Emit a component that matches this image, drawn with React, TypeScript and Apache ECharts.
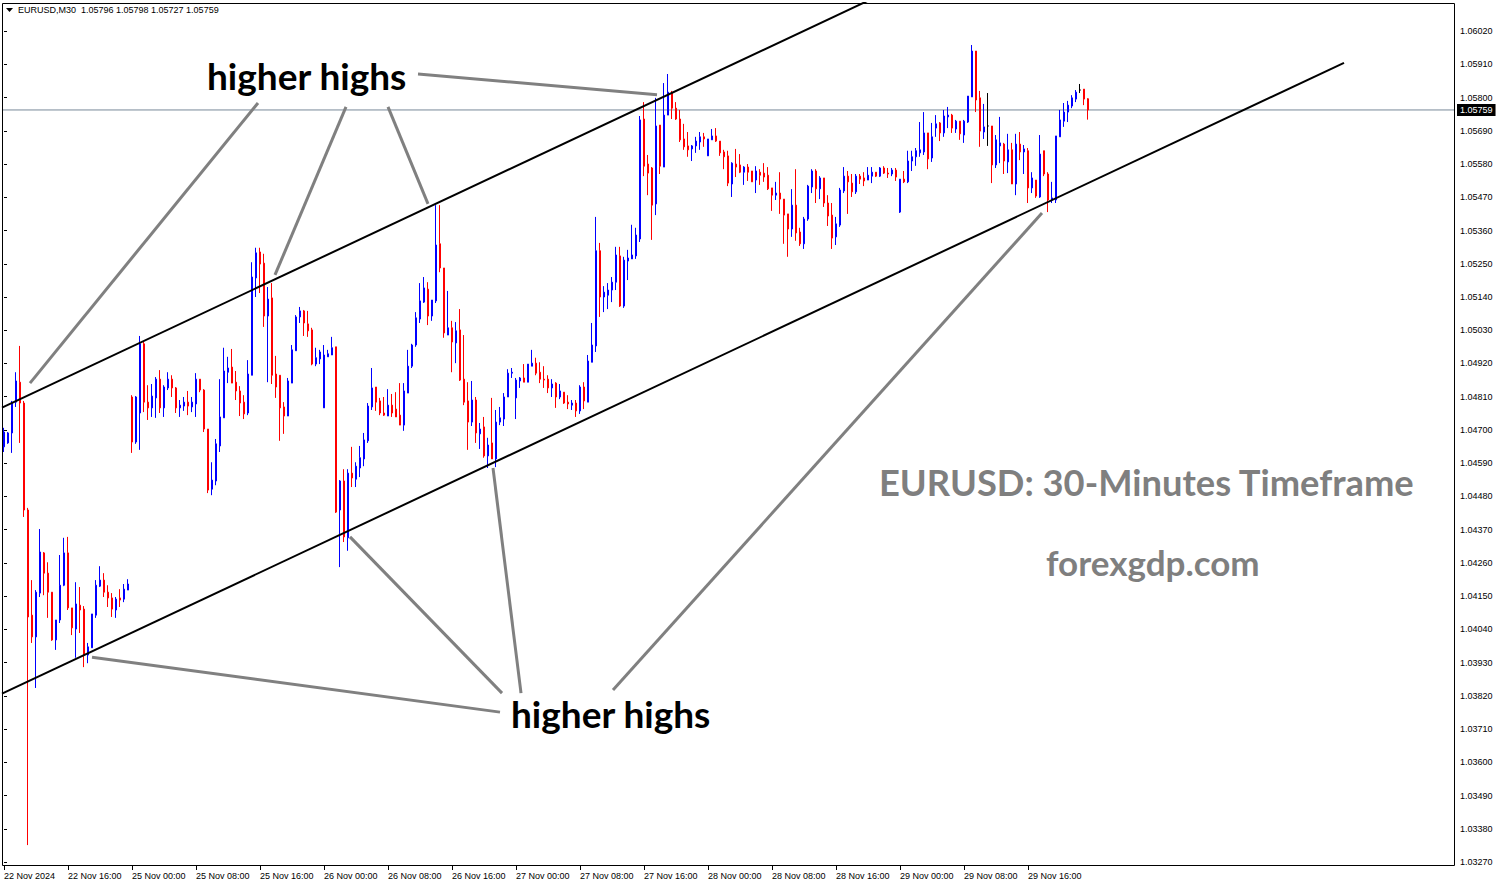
import React, { useEffect, useRef } from "react";
import * as echarts from "echarts";

const symbolTitle = "EURUSD,M30";
const lastBar = { open: 1.05796, high: 1.05798, low: 1.05727, close: 1.05759 };

const tickLabels = [
  "22 Nov 2024", "22 Nov 16:00", "25 Nov 00:00", "25 Nov 08:00", "25 Nov 16:00",
  "26 Nov 00:00", "26 Nov 08:00", "26 Nov 16:00", "27 Nov 00:00", "27 Nov 08:00",
  "27 Nov 16:00", "28 Nov 00:00", "28 Nov 08:00", "28 Nov 16:00", "29 Nov 00:00",
  "29 Nov 08:00", "29 Nov 16:00",
];
const tradingDays = ["22 Nov", "25 Nov", "26 Nov", "27 Nov", "28 Nov", "29 Nov"];
const firstDayStartSlot = 16;
const totalSlots = 363;
const barsPerTick = 16;

const opens = [
  1.04644,1.04657,1.04690,1.04792,1.04858,1.04789,1.04435,1.04087,1.04015,1.04160,1.04293,1.04226,1.04163,1.04005,1.04071,1.04186,
  1.04293,1.04111,1.04041,1.04120,1.04107,1.03955,1.03979,1.04087,1.04183,1.04203,1.04163,1.04144,1.04104,1.04144,1.04140,1.04170,
  1.04809,1.04660,1.04756,1.04985,1.04792,1.04773,1.04806,1.04868,1.04773,1.04839,1.04868,1.04839,1.04773,1.04779,1.04792,1.04776,
  1.04786,1.04868,1.04832,1.04703,1.04504,1.04531,1.04647,1.04740,1.04891,1.04908,1.04858,1.04829,1.04792,1.04756,1.04881,1.05203,
  1.05289,1.05252,1.05077,1.05137,1.04885,1.04881,1.04776,1.04746,1.04855,1.04962,1.05074,1.05094,1.05051,1.05031,1.04918,1.04935,
  1.04773,1.04942,1.04948,1.04975,1.04435,1.04531,1.04343,1.04557,1.04537,1.04574,1.04604,1.04664,1.04776,1.04842,1.04796,1.04756,
  1.04746,1.04782,1.04769,1.04749,1.04716,1.04822,1.04911,1.04981,1.05067,1.05123,1.05166,1.05077,1.05127,1.05316,1.05236,1.05014,
  1.05038,1.04988,1.05031,1.04868,1.04796,1.04726,1.04799,1.04687,1.04710,1.04614,1.04657,1.04604,1.04726,1.04736,1.04809,1.04888,
  1.04806,1.04862,1.04872,1.04858,1.04911,1.04921,1.04891,1.04868,1.04868,1.04839,1.04855,1.04809,1.04825,1.04792,1.04782,1.04789,
  1.04763,1.04842,1.04792,1.04924,1.04978,1.05293,1.05140,1.05146,1.05163,1.05189,1.05276,1.05110,1.05259,1.05266,1.05276,1.05332,
  1.05729,1.05580,1.05567,1.05448,1.05709,1.05570,1.05742,1.05818,1.05765,1.05729,1.05663,1.05640,1.05630,1.05640,1.05653,1.05670,
  1.05607,1.05660,1.05673,1.05656,1.05620,1.05607,1.05514,1.05580,1.05577,1.05553,1.05570,1.05557,1.05527,1.05553,1.05550,1.05543,
  1.05501,1.05477,1.05484,1.05464,1.05415,1.05365,1.05444,1.05355,1.05316,1.05398,1.05504,1.05557,1.05498,1.05534,1.05451,1.05411,
  1.05339,1.05378,1.05491,1.05540,1.05517,1.05488,1.05540,1.05534,1.05527,1.05540,1.05553,1.05540,1.05567,1.05550,1.05547,1.05560,
  1.05421,1.05530,1.05521,1.05590,1.05604,1.05617,1.05620,1.05683,1.05600,1.05699,1.05716,1.05683,1.05736,1.05742,1.05696,1.05722,
  1.05676,1.05719,1.05802,1.05954,1.05799,1.05686,1.05706,1.05706,1.05577,1.05640,1.05646,1.05587,1.05627,1.05514,1.05646,1.05620,
  1.05624,1.05501,1.05527,1.05471,1.05624,1.05547,1.05461,1.05461,1.05670,1.05722,1.05752,1.05772,1.05795,1.05825,1.05828,1.05796,
];
const highs = [
  1.04707,1.04693,1.04796,1.04891,1.04978,1.04796,1.04442,1.04203,1.04170,1.04372,1.04296,1.04262,1.04163,1.04071,1.04286,1.04343,
  1.04346,1.04111,1.04196,1.04180,1.04117,1.03995,1.04091,1.04203,1.04249,1.04226,1.04186,1.04160,1.04147,1.04173,1.04190,1.04206,
  1.04815,1.04812,1.05011,1.04991,1.04848,1.04852,1.04875,1.04898,1.04848,1.04891,1.04881,1.04842,1.04799,1.04809,1.04829,1.04809,
  1.04888,1.04868,1.04835,1.04703,1.04593,1.04670,1.04868,1.04972,1.04942,1.04968,1.04895,1.04845,1.04815,1.04931,1.05255,1.05303,
  1.05303,1.05283,1.05173,1.05186,1.04945,1.04881,1.04792,1.04872,1.04981,1.05080,1.05107,1.05097,1.05094,1.05038,1.04972,1.04965,
  1.04981,1.04965,1.05008,1.04975,1.04534,1.04570,1.04570,1.04644,1.04593,1.04647,1.04690,1.04789,1.04905,1.04842,1.04806,1.04809,
  1.04835,1.04819,1.04825,1.04855,1.04855,1.04965,1.04985,1.05090,1.05186,1.05206,1.05189,1.05130,1.05444,1.05444,1.05236,1.05160,
  1.05061,1.05057,1.05100,1.05014,1.04858,1.04862,1.04809,1.04723,1.04743,1.04674,1.04806,1.04766,1.04776,1.04822,1.04901,1.04905,
  1.04872,1.04875,1.04918,1.04918,1.04965,1.04939,1.04924,1.04911,1.04881,1.04868,1.04858,1.04852,1.04825,1.04815,1.04799,1.04799,
  1.04848,1.04858,1.04948,1.05054,1.05405,1.05319,1.05176,1.05186,1.05206,1.05306,1.05306,1.05273,1.05296,1.05379,1.05369,1.05739,
  1.05785,1.05610,1.05570,1.05799,1.05709,1.05848,1.05878,1.05822,1.05785,1.05759,1.05713,1.05686,1.05643,1.05670,1.05686,1.05683,
  1.05663,1.05696,1.05699,1.05656,1.05627,1.05624,1.05586,1.05630,1.05613,1.05573,1.05580,1.05557,1.05573,1.05563,1.05583,1.05570,
  1.05501,1.05521,1.05553,1.05464,1.05415,1.05497,1.05563,1.05369,1.05405,1.05511,1.05563,1.05563,1.05540,1.05534,1.05477,1.05451,
  1.05405,1.05501,1.05570,1.05557,1.05547,1.05547,1.05547,1.05553,1.05570,1.05570,1.05553,1.05570,1.05573,1.05567,1.05567,1.05567,
  1.05530,1.05557,1.05624,1.05624,1.05633,1.05719,1.05752,1.05683,1.05716,1.05742,1.05719,1.05759,1.05769,1.05746,1.05726,1.05722,
  1.05726,1.05805,1.05974,1.05954,1.05822,1.05779,1.05815,1.05706,1.05676,1.05736,1.05650,1.05680,1.05650,1.05680,1.05686,1.05643,
  1.05633,1.05553,1.05527,1.05676,1.05624,1.05553,1.05521,1.05673,1.05759,1.05782,1.05789,1.05808,1.05825,1.05845,1.05828,1.05798,
];
const lows = [
  1.04627,1.04654,1.04624,1.04776,1.04657,1.04412,1.03326,1.03995,1.03846,1.04147,1.04153,1.04078,1.04002,1.03972,1.04061,1.04183,
  1.04104,1.04021,1.03946,1.04028,1.03915,1.03928,1.03979,1.04078,1.04180,1.04147,1.04114,1.04081,1.04078,1.04114,1.04130,1.04170,
  1.04624,1.04654,1.04634,1.04759,1.04733,1.04743,1.04740,1.04756,1.04743,1.04832,1.04809,1.04756,1.04743,1.04763,1.04749,1.04759,
  1.04743,1.04825,1.04693,1.04491,1.04484,1.04517,1.04627,1.04740,1.04855,1.04855,1.04799,1.04746,1.04736,1.04749,1.04881,1.05140,
  1.05153,1.05041,1.04858,1.04852,1.04806,1.04664,1.04687,1.04746,1.04855,1.04962,1.05054,1.05011,1.05008,1.04914,1.04911,1.04918,
  1.04773,1.04942,1.04948,1.04425,1.04246,1.04329,1.04300,1.04511,1.04511,1.04544,1.04580,1.04657,1.04766,1.04763,1.04749,1.04746,
  1.04746,1.04743,1.04743,1.04716,1.04697,1.04822,1.04905,1.04975,1.05054,1.05120,1.05047,1.05061,1.05120,1.05222,1.05005,1.05014,
  1.04891,1.04921,1.04862,1.04782,1.04634,1.04713,1.04657,1.04637,1.04608,1.04574,1.04604,1.04577,1.04716,1.04713,1.04809,1.04872,
  1.04736,1.04839,1.04858,1.04858,1.04911,1.04881,1.04855,1.04839,1.04822,1.04809,1.04773,1.04802,1.04786,1.04769,1.04766,1.04743,
  1.04753,1.04769,1.04792,1.04924,1.04958,1.05074,1.05090,1.05100,1.05123,1.05163,1.05107,1.05104,1.05196,1.05266,1.05266,1.05322,
  1.05540,1.05477,1.05329,1.05411,1.05547,1.05570,1.05742,1.05729,1.05726,1.05653,1.05627,1.05604,1.05590,1.05617,1.05627,1.05637,
  1.05607,1.05660,1.05653,1.05607,1.05563,1.05507,1.05471,1.05537,1.05550,1.05511,1.05524,1.05521,1.05484,1.05511,1.05521,1.05494,
  1.05425,1.05461,1.05415,1.05316,1.05273,1.05339,1.05326,1.05309,1.05299,1.05392,1.05484,1.05451,1.05464,1.05438,1.05375,1.05299,
  1.05312,1.05372,1.05484,1.05415,1.05471,1.05481,1.05514,1.05507,1.05527,1.05517,1.05537,1.05537,1.05547,1.05534,1.05540,1.05524,
  1.05418,1.05517,1.05517,1.05557,1.05574,1.05604,1.05610,1.05563,1.05587,1.05670,1.05656,1.05670,1.05699,1.05683,1.05683,1.05660,
  1.05650,1.05716,1.05802,1.05752,1.05637,1.05663,1.05640,1.05517,1.05567,1.05583,1.05547,1.05550,1.05514,1.05477,1.05593,1.05547,
  1.05451,1.05484,1.05468,1.05468,1.05540,1.05421,1.05451,1.05451,1.05670,1.05703,1.05719,1.05765,1.05785,1.05815,1.05775,1.05727,
];
const closes = [
  1.04693,1.04690,1.04792,1.04862,1.04789,1.04435,1.04081,1.04015,1.04163,1.04296,1.04226,1.04163,1.04005,1.04071,1.04186,1.04293,
  1.04111,1.04045,1.04124,1.04104,1.03955,1.03982,1.04091,1.04186,1.04203,1.04163,1.04144,1.04107,1.04140,1.04137,1.04173,1.04190,
  1.04660,1.04809,1.04985,1.04792,1.04773,1.04812,1.04868,1.04773,1.04842,1.04868,1.04839,1.04773,1.04782,1.04792,1.04779,1.04792,
  1.04868,1.04832,1.04703,1.04501,1.04534,1.04654,1.04743,1.04895,1.04905,1.04855,1.04829,1.04789,1.04753,1.04885,1.05206,1.05286,
  1.05249,1.05077,1.05133,1.04881,1.04842,1.04773,1.04746,1.04862,1.04965,1.05074,1.05094,1.05054,1.05028,1.04918,1.04939,1.04958,
  1.04948,1.04952,1.04972,1.04428,1.04531,1.04346,1.04557,1.04541,1.04580,1.04608,1.04667,1.04779,1.04839,1.04792,1.04756,1.04749,
  1.04782,1.04756,1.04743,1.04716,1.04829,1.04911,1.04981,1.05071,1.05127,1.05170,1.05077,1.05130,1.05312,1.05236,1.05021,1.05038,
  1.04991,1.05028,1.04865,1.04792,1.04726,1.04799,1.04690,1.04703,1.04614,1.04650,1.04604,1.04726,1.04740,1.04809,1.04888,1.04891,
  1.04865,1.04872,1.04858,1.04918,1.04921,1.04888,1.04868,1.04865,1.04839,1.04852,1.04809,1.04829,1.04789,1.04786,1.04789,1.04763,
  1.04842,1.04796,1.04928,1.04981,1.05293,1.05140,1.05156,1.05163,1.05189,1.05279,1.05110,1.05262,1.05269,1.05279,1.05345,1.05726,
  1.05573,1.05550,1.05444,1.05706,1.05573,1.05742,1.05818,1.05765,1.05729,1.05660,1.05637,1.05627,1.05640,1.05656,1.05670,1.05663,
  1.05663,1.05673,1.05656,1.05617,1.05604,1.05517,1.05583,1.05570,1.05553,1.05570,1.05553,1.05521,1.05557,1.05543,1.05537,1.05498,
  1.05477,1.05484,1.05464,1.05411,1.05365,1.05444,1.05352,1.05316,1.05398,1.05507,1.05557,1.05498,1.05534,1.05451,1.05408,1.05335,
  1.05382,1.05494,1.05540,1.05521,1.05488,1.05540,1.05530,1.05524,1.05543,1.05553,1.05540,1.05567,1.05550,1.05547,1.05560,1.05537,
  1.05530,1.05521,1.05590,1.05604,1.05624,1.05627,1.05683,1.05597,1.05670,1.05713,1.05683,1.05739,1.05742,1.05699,1.05722,1.05680,
  1.05722,1.05805,1.05954,1.05792,1.05689,1.05703,1.05706,1.05577,1.05660,1.05650,1.05590,1.05627,1.05514,1.05646,1.05620,1.05630,
  1.05501,1.05534,1.05474,1.05613,1.05547,1.05461,1.05468,1.05673,1.05726,1.05752,1.05775,1.05799,1.05818,1.05825,1.05795,1.05759,
];

const priceMin = 1.0327;
const priceMax = 1.06113;
const priceStep = 0.0011;

// trend lines: [bar index, price]
const upperChannel = [[-0.5, 1.04774], [250, 1.06332]];
const lowerChannel = [[-0.5, 1.03827], [335, 1.05915]];
const pointerLines = [
  [[63.5, 1.05782], [6.5, 1.04855]],
  [[85.5, 1.05769], [67.75, 1.05213]],
  [[96, 1.05769], [106, 1.05448]],
  [[103.5, 1.05878], [163.25, 1.05809]],
  [[124.5, 1.03829], [86.5, 1.04346]],
  [[129.25, 1.03829], [122.25, 1.04574]],
  [[152.25, 1.03839], [259.5, 1.05418]],
  [[124, 1.03766], [22, 1.03948]],
];

const annotationTexts = [
  { text: "higher highs", left: 207, top: 57, size: 37, color: "#000000" },
  { text: "higher highs", left: 511, top: 695, size: 37, color: "#000000" },
  { text: "EURUSD: 30-Minutes Timeframe", left: 879, top: 464, size: 36.3, color: "#7f7f7f" },
  { text: "forexgdp.com", left: 1046, top: 544, size: 35, color: "#7f7f7f" },
];

function buildCategories(): string[] {
  const out: string[] = [];
  tradingDays.forEach((d, k) => {
    for (let s = k === 0 ? firstDayStartSlot : 0; s < 48; s++) {
      const h = String(Math.floor(s / 2)).padStart(2, "0");
      const m = s % 2 ? "30" : "00";
      out.push(`${d} ${h}:${m}`);
    }
  });
  for (let k = out.length; k < totalSlots; k++) out.push(`slot ${k}`);
  return out;
}

const AXIS_FONT = "'Liberation Sans', Arial, sans-serif";
const BIG_FAMILY = "Lato, 'Open Sans', sans-serif";

export default function App() {
  const ref = useRef<HTMLDivElement>(null);
  useEffect(() => {
    if (!ref.current) return;
    const chart = echarts.init(ref.current, undefined, { renderer: "svg" });
    const categories = buildCategories();
    const isTick = (index: number) => index % barsPerTick === 0 && index / barsPerTick < tickLabels.length;
    const candleData = opens.map((o, i) => [o, closes[i], lows[i], highs[i]]);

    const lineSeries = (data: number[][], color: string, width: number, z: number) => ({
      type: "line",
      xAxisIndex: 1,
      yAxisIndex: 0,
      data,
      symbol: "none",
      silent: true,
      clip: true,
      z,
      lineStyle: { color, width },
    });

    const option: any = {
      animation: false,
      backgroundColor: "#ffffff",
      grid: { left: 2, right: 45, top: 3, bottom: 26, containLabel: false },
      xAxis: [
        {
          type: "category",
          data: categories,
          boundaryGap: true,
          offset: 4,
          axisLine: { show: false },
          axisTick: {
            show: true,
            interval: (index: number) => isTick(index),
            alignWithLabel: true,
            length: 4,
            lineStyle: { color: "#000000" },
          },
          axisLabel: {
            interval: (index: number) => isTick(index),
            formatter: (_v: string, index: number) => (isTick(index) ? tickLabels[index / barsPerTick] : ""),
            align: "left",
            color: "#000000",
            fontSize: 9,
            fontFamily: AXIS_FONT,
            margin: 5,
          },
          splitLine: { show: false },
        },
        { type: "value", min: -0.5, max: totalSlots - 0.5, show: false },
      ],
      yAxis: {
        type: "value",
        position: "right",
        min: priceMin,
        max: priceMax,
        interval: priceStep,
        axisLine: { show: false },
        axisTick: { show: true, length: 3, lineStyle: { color: "#000000" } },
        axisLabel: {
          formatter: (v: number) => v.toFixed(5),
          color: "#000000",
          fontSize: 9,
          fontFamily: AXIS_FONT,
          margin: 6,
          showMaxLabel: false,
        },
        splitLine: { show: false },
      },
      series: [
        {
          type: "line",
          xAxisIndex: 1,
          yAxisIndex: 0,
          data: [[-0.5, lastBar.close], [totalSlots - 0.5, lastBar.close]],
          symbol: "none",
          silent: true,
          z: 1,
          lineStyle: { color: "#778899", width: 1 },
          endLabel: {
            show: true,
            formatter: () => lastBar.close.toFixed(5),
            backgroundColor: "#000000",
            color: "#ffffff",
            fontSize: 9,
            fontFamily: AXIS_FONT,
            padding: [2, 3, 1, 3],
            distance: 3,
          },
        },
        {
          type: "candlestick",
          xAxisIndex: 0,
          yAxisIndex: 0,
          data: candleData,
          barWidth: 2,
          z: 2,
          itemStyle: {
            color: "#0000ff",
            color0: "#ff0000",
            borderColor: "#0000ff",
            borderColor0: "#ff0000",
            borderColorDoji: "#000000",
            borderWidth: 1,
          },
        },
        lineSeries(upperChannel, "#000000", 2, 5),
        lineSeries(lowerChannel, "#000000", 2, 5),
        ...pointerLines.map((p) => lineSeries(p, "#808080", 3, 6)),
      ],
      graphic: [
        {
          type: "rect",
          silent: true,
          z: 10,
          shape: { x: 2.5, y: 3.5, width: 1452, height: 862 },
          style: { fill: "none", stroke: "#000000", lineWidth: 1 },
        },
        {
          type: "polygon",
          silent: true,
          shape: { points: [[6, 8], [13, 8], [9.5, 12]] },
          style: { fill: "#000000" },
        },
        {
          type: "text",
          left: 18,
          top: 5,
          silent: true,
          style: {
            text: `${symbolTitle}  ${lastBar.open.toFixed(5)} ${lastBar.high.toFixed(5)} ${lastBar.low.toFixed(5)} ${lastBar.close.toFixed(5)}`,
            font: `9px ${AXIS_FONT}`,
            fill: "#000000",
          },
        },
        ...annotationTexts.map((a) => ({
          type: "text",
          left: a.left,
          top: a.top,
          silent: true,
          z: 20,
          style: { text: a.text, font: `bold ${a.size}px ${BIG_FAMILY}`, fill: a.color },
        })),
      ],
    };
    chart.setOption(option);
    return () => chart.dispose();
  }, []);
  return <div ref={ref} style={{ position: "absolute", left: 0, top: 0, width: 1499, height: 888, background: "#fff" }} />;
}
